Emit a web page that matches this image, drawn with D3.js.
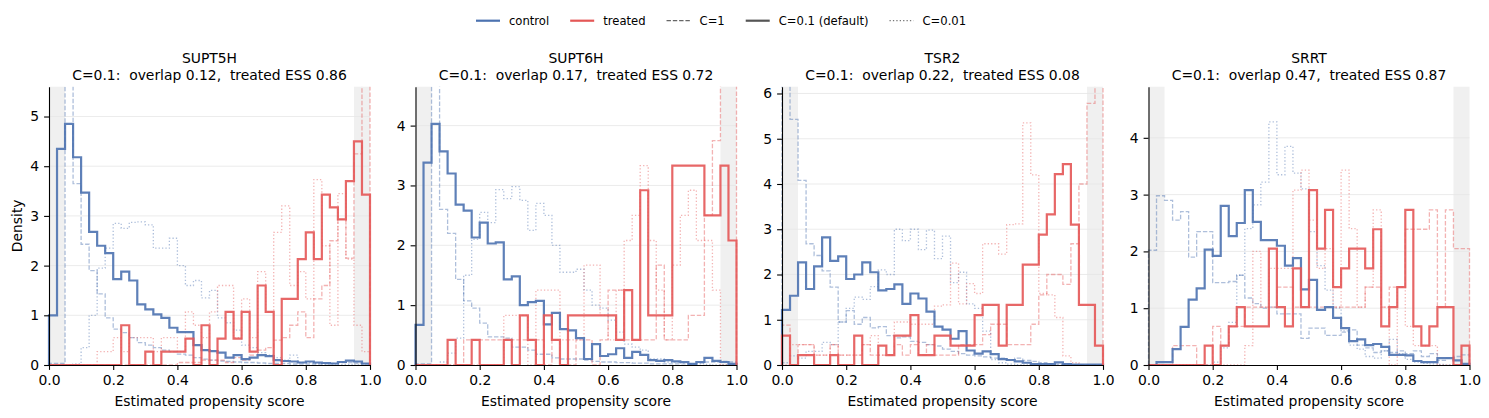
<!DOCTYPE html>
<html>
<head>
<meta charset="utf-8">
<script src="https://cdn.jsdelivr.net/npm/d3@7"></script>
<style>
    body { margin: 0; background: #fff; }
    svg { font-family: "DejaVu Sans", sans-serif; }
</style>
</head>
<body>
<div id="chart"></div>
<script>

// --- data ------------------------------------------------------------------
const genes = ['SUPT5H', 'SUPT6H', 'TSR2', 'SRRT'];
const overlap = ['0.12', '0.17', '0.22', '0.47'];
const treatedESS = ['0.86', '0.72', '0.08', '0.87'];
const yMax = [5.6, 4.65, 6.15, 4.9];
const xTicks = [0, 0.2, 0.4, 0.6, 0.8, 1.0];
const trimRegions = [[0, 0.05], [0.95, 1.0]];
const nBins = 40;   // bins of width 0.025 on [0, 1]

// density per bin, one row per gene
const ctrlC01 = [
    [1.0,4.35,4.85,4.18,3.47,2.68,2.40,2.25,1.73,1.88,1.70,1.22,1.12,1.02,0.95,0.75,0.66,0.66,0.40,0.30,0.28,0.25,0.15,0.20,0.12,0.15,0.20,0.18,0.10,0.08,0.07,0.05,0.07,0.05,0.04,0.03,0.06,0.09,0.07,0.03],
    [0.67,3.38,4.03,3.57,3.2,2.68,2.58,2.13,2.38,2.03,2.05,1.43,1.48,1.0,1.05,1.07,0.68,0.87,0.60,0.58,0.45,0.10,0.35,0.15,0.18,0.28,0.12,0.22,0.17,0.08,0.07,0.08,0.06,0.05,0.02,0.05,0.12,0.07,0.05,0.02],
    [1.22,1.53,2.27,1.68,2.18,2.82,2.3,2.4,1.9,2.0,2.27,2.05,1.65,1.68,1.78,1.35,1.58,1.47,1.18,0.85,0.78,0.58,0.75,0.32,0.25,0.30,0.24,0.13,0.11,0.08,0.05,0.02,0.02,0.02,0.06,0.02,0.01,0.01,0.01,0.01],
    [0,0.05,0.05,0.28,0.67,1.15,1.35,2.03,1.92,2.8,2.27,2.5,3.08,2.52,2.2,2.2,2.1,1.75,1.88,1.33,1.5,0.97,1.02,0.83,0.65,0.42,0.45,0.35,0.37,0.32,0.18,0.18,0.17,0.07,0.05,0.05,0.12,0.12,0.08,0.02]
];
const trtC01 = [
    [0,0,0,0,0,0,0,0,0,0.8,0,0,0.27,0,0.27,0.27,0.27,0.53,0,0.8,0,0.53,1.07,0.53,1.07,0.27,1.6,1.07,0,1.33,1.33,2.13,2.67,2.13,3.43,3.17,2.93,3.7,4.5,3.43],
    [0,0,0,0,0.42,0,0,0.42,0,0,0,0.42,0,0.83,0.42,0,0.83,0.42,0,0.83,0.83,0.83,0.83,0.83,0.83,0.42,1.25,0.42,2.92,0.83,0.83,0.83,3.33,3.33,3.33,3.33,2.5,2.5,3.33,2.08],
    [0.65,0,0.22,0.22,0,0,0.22,0,0,0.65,0,0,0.43,0.22,0.65,0.65,1.1,0.22,0.22,0.65,0.65,0.43,0.43,0.43,1.1,1.33,1.33,0.43,1.33,1.33,2.22,2.22,2.88,3.33,4.22,4.44,3.1,1.33,1.33,0.43],
    [0,0,0,0,0,0,0,0.34,0,0.34,0.68,1.02,0.68,0.68,0.68,2.05,1.02,0.68,1.7,1.02,3.08,2.05,2.73,1.37,1.7,2.05,2.05,1.7,2.39,0.68,1.02,1.37,2.73,0.68,0.34,0.68,1.02,1.02,0,0.34]
];
const ctrlC1 = [
    [0.03,0.03,7,3.65,2.43,1.9,1.43,0.95,0.72,0.65,0.55,0.45,0.40,0.35,0.30,0.27,0.22,0.2,0.15,0.12,0.1,0.08,0.07,0.06,0.05,0.05,0.04,0.03,0.03,0.03,0.02,0.02,0.02,0.02,0.02,0.03,0.05,0.05,0.04,0.02],
    [0.02,0.02,7,2.6,2.2,1.43,1.07,0.95,0.7,0.47,0.47,0.45,0.3,0.3,0.25,0.18,0.18,0.12,0.1,0.1,0.1,0.08,0.06,0.05,0.05,0.04,0.04,0.03,0.03,0.02,0.02,0.02,0.02,0.02,0.02,0.03,0.05,0.05,0.06,0.05],
    [8,5.43,4.08,2.68,2.42,2.08,1.72,0.95,1.2,0.9,1.05,0.82,0.85,0.65,0.6,0.62,0.52,0.5,0.45,0.42,0.35,0.3,0.25,0.22,0.2,0.18,0.15,0.15,0.12,0.15,0.1,0.08,0.05,0.03,0.02,0.02,0.01,0.01,0.01,0.01],
    [2.02,2.98,2.9,2.55,2.7,1.9,2.35,2.35,1.45,1.45,1.47,1.58,1.18,1.08,1.0,1.02,0.9,0.9,0.9,0.47,0.65,0.65,0.52,0.52,0.58,0.62,0.35,0.3,0.22,0.25,0.22,0.25,0.2,0.25,0.15,0.2,0.08,0.12,0.15,0.18]
];
const trtC1 = [
    [0,0,0,0,0,0,0,0,0,0,0,0,0,0,0,0,0.05,0.05,0.05,0.1,0.1,0.1,0.05,0.15,0.1,0.2,0.3,0.35,0.5,0.55,0.8,1.07,0.55,1.33,1.6,2.5,2.93,2.15,4.25,8],
    [0,0,0,0,0,0,0.42,0.42,0.42,0.42,0.42,0.42,0.42,0.42,0.42,0.42,0,0.42,0,0,0.42,0.42,0,0.42,1.25,1.25,0.42,0.42,0.42,0.42,1.67,0.42,0.42,0.42,0.83,0.83,2.5,3.75,7,7],
    [0.88,0,0.45,0.45,0.22,0.22,0.45,0.22,0.22,0.22,0.45,0.22,0.22,0.22,0.45,0.22,0.45,0.22,0.45,0.22,0.22,0.22,0.45,0.45,0.45,0.67,0.9,0.9,0.45,0.45,0.45,0.9,1.55,2.0,2.0,1.78,2.68,4.0,5.78,8],
    [0,0,0,0.34,0.34,0.34,0,0,0.68,0.34,0.68,0.68,1.02,1.02,1.02,1.02,1.37,1.37,1.02,1.02,1.02,1.02,1.02,1.02,1.02,1.02,1.02,1.37,1.37,1.02,1.37,1.37,2.39,2.39,2.39,2.73,1.02,2.73,2.05,2.05]
];
const ctrlC001 = [
    [0,0,0,0.02,0.35,1.0,1.95,2.35,2.85,2.75,2.87,2.88,2.82,2.35,2.35,2.55,2.0,1.6,1.7,1.35,1.5,0.95,0.85,0.7,0.4,0.35,0.25,0.2,0.15,0.1,0.2,0.05,0.05,0.03,0.02,0.02,0.01,0.01,0,0],
    [0,0,0,0.05,0.2,0.45,1.5,2.1,2.55,2.38,2.93,2.78,2.98,2.75,2.25,2.7,2.5,2.0,1.55,1.55,1.6,1.25,1.0,0.95,0.75,0.55,0.35,0.3,0.25,0.1,0.1,0.05,0.05,0.03,0.02,0.02,0.01,0,0,0],
    [0.05,0.2,0.15,0.3,0.3,0.5,0.45,0.95,1.25,1.5,1.45,1.73,2.1,2.0,3.0,2.75,3.0,2.55,2.98,2.35,2.85,1.82,2.05,1.35,1.25,0.75,0.12,0.05,0.02,0.01,0,0,0,0,0,0,0,0,0,0],
    [0,0,0,0,0,0,0,0,0.05,0.3,0.75,1.58,2.4,2.82,3.22,4.28,3.35,3.85,3.38,3.1,2.35,1.75,1.32,1.0,0.6,0.35,0.28,0.15,0.12,0.25,0.45,0.2,0.1,0.05,0.03,0.02,0.01,0,0,0]
];
const trtC001 = [
    [0,0,0,0,0,0,0.27,0.27,0.55,0.27,0.55,0.55,0.55,0.27,0.55,0.55,0.27,1.07,0.8,0.55,1.07,1.6,1.6,0.55,1.33,0.55,1.88,1.07,2.67,3.2,1.6,1.88,1.33,3.73,2.4,0.8,3.45,2.13,0.8,0.27],
    [0,0,0,0,0,0,0,0,0,0,0,0.83,0.83,0.83,0,1.25,1.25,1.25,0.42,0.42,0.42,1.67,1.67,0.83,0.42,1.25,2.08,2.5,3.33,2.08,1.25,0.42,1.67,2.5,2.92,2.08,2.08,1.25,0,0],
    [0,0.45,0.45,0.45,0.22,0.22,0.45,0.22,0.22,0.22,0.45,0.65,0.22,0.22,0.95,0.95,0.9,0.9,0.9,1.3,1.33,2.25,1.35,1.8,1.58,2.68,2.68,2.45,3.1,3.12,5.35,4.2,1.58,1.55,1.05,0.2,0.05,0,0,0],
    [0,0,0,0,0,0,0,0,0,0,0,0,0.34,2.0,1.02,1.7,1.7,1.7,3.08,3.43,2.55,1.7,2.05,1.02,3.43,2.4,1.02,1.37,2.73,1.02,0,1.37,0.68,0.34,0.34,0.34,0,0,0,0]
];

// --- styles ----------------------------------------------------------------
const blue = '#4c72b0';
const red = '#e45756';
const dashFaint = '4.4,1.9';
const dotFaint = '1.3,2.1';

// faint first, bold on top
const layers = [
    {vals: ctrlC1,   color: blue, dash: dashFaint, width: 1.3, opacity: 0.45},
    {vals: trtC1,    color: red,  dash: dashFaint, width: 1.3, opacity: 0.45},
    {vals: ctrlC001, color: blue, dash: dotFaint,  width: 1.3, opacity: 0.45},
    {vals: trtC001,  color: red,  dash: dotFaint,  width: 1.3, opacity: 0.45},
    {vals: ctrlC01,  color: blue, dash: null,      width: 2.2, opacity: 0.9},
    {vals: trtC01,   color: red,  dash: null,      width: 2.2, opacity: 0.9}
];

const width = 1489;
const height = 418;
const axW = 321;
const axTop = 86.7;
const axBottom = 365;
const axLefts = [49, 415.5, 782, 1148.5];
const fontSize = '13.9px';

const mySVG = d3.select('#chart')
    .append('svg')
        .attr('width', width)
        .attr('height', height);

const binScale = d3.scaleLinear().domain([0, nBins]).range([0, 1]);

// outline of a step histogram: (x0,0) up, across every bin, down at the end
function stepPoints(vals) {
    let pts = [[binScale(0), 0]];
    vals.forEach((v, k) => {
        pts.push([binScale(k), v]);
        pts.push([binScale(k + 1), v]);
    });
    pts.push([binScale(nBins), 0]);
    return pts;
}

genes.forEach((gene, i) => {
    let x = d3.scaleLinear().domain([0, 1]).range([axLefts[i], axLefts[i] + axW]);
    let y = d3.scaleLinear().domain([0, yMax[i]]).range([axBottom, axTop]);

    let g = mySVG.append('g');

    g.append('clipPath')
        .attr('id', 'clip' + i)
        .append('rect')
            .attr('x', x(0) - 2)
            .attr('y', axTop)
            .attr('width', axW + 4)
            .attr('height', axBottom - axTop + 2);

    // trimmed propensity regions
    g.selectAll('rect.trim')
        .data(trimRegions)
        .join('rect')
            .classed('trim', true)
            .attr('x', d => x(d[0]))
            .attr('width', d => x(d[1]) - x(d[0]))
            .attr('y', axTop)
            .attr('height', axBottom - axTop)
            .attr('fill', '#f0f0f0');

    // horizontal grid
    let yTicks = d3.range(0, Math.floor(yMax[i]) + 1);
    g.selectAll('line.grid')
        .data(yTicks.slice(1))
        .join('line')
            .classed('grid', true)
            .attr('x1', x(0))
            .attr('x2', x(1))
            .attr('y1', d => y(d))
            .attr('y2', d => y(d))
            .attr('stroke', '#e6e6e6')
            .attr('stroke-width', 0.8);

    let line = d3.line()
        .x(d => x(d[0]))
        .y(d => y(d[1]));

    let hg = g.append('g').attr('clip-path', `url(#clip${i})`);
    layers.forEach(l => {
        hg.append('path')
            .attr('d', line(stepPoints(l.vals[i])))
            .attr('fill', 'none')
            .attr('stroke', l.color)
            .attr('stroke-width', l.width)
            .attr('stroke-opacity', l.opacity)
            .attr('stroke-dasharray', l.dash)
            .attr('stroke-linejoin', 'miter');
    });

    // axes
    let xAxis = g.append('g')
        .attr('transform', `translate(0,${axBottom})`)
        .call(d3.axisBottom(x)
            .tickValues(xTicks)
            .tickFormat(d3.format('.1f'))
            .tickSize(4.9)
            .tickSizeOuter(0)
            .tickPadding(4.9));

    let yAxis = g.append('g')
        .attr('transform', `translate(${x(0)},0)`)
        .call(d3.axisLeft(y)
            .tickValues(yTicks)
            .tickFormat(d3.format('d'))
            .tickSize(4.9)
            .tickSizeOuter(0)
            .tickPadding(4.9));

    [xAxis, yAxis].forEach(a => {
        a.selectAll('text')
            .style('font-size', fontSize)
            .style('font-family', '"DejaVu Sans", sans-serif')
            .attr('fill', '#000');
        a.selectAll('line').attr('stroke', '#000').attr('stroke-width', 1.1);
        a.select('.domain').attr('stroke', '#000').attr('stroke-width', 1.1);
    });

    g.append('text')
        .attr('x', x(0.5))
        .attr('y', 405.5)
        .attr('text-anchor', 'middle')
        .style('font-size', fontSize)
        .text('Estimated propensity score');

    let title = g.append('text')
        .attr('text-anchor', 'middle')
        .style('font-size', fontSize)
        .style('white-space', 'pre')
        .attr('xml:space', 'preserve');
    title.append('tspan')
        .attr('x', x(0.5))
        .attr('y', 63)
        .text(gene);
    title.append('tspan')
        .attr('x', x(0.5))
        .attr('y', 80)
        .text(`C=0.1:  overlap ${overlap[i]},  treated ESS ${treatedESS[i]}`);

    if (i === 0) {
        g.append('text')
            .attr('transform', `translate(22,${(axTop + axBottom) / 2}) rotate(-90)`)
            .attr('text-anchor', 'middle')
            .style('font-size', fontSize)
            .text('Density');
    }
});

// --- legend ----------------------------------------------------------------
const legendItems = [
    {label: 'control', color: blue, dash: null, width: 2.2},
    {label: 'treated', color: red, dash: null, width: 2.2},
    {label: 'C=1', color: '#666', dash: '4.4,1.9', width: 1.3},
    {label: 'C=0.1 (default)', color: '#555', dash: null, width: 2.2},
    {label: 'C=0.01', color: '#777', dash: '1.3,2.1', width: 1.3}
];

let legend = mySVG.append('g').attr('transform', 'translate(0,20.7)');
let cursor = 476;
legendItems.forEach(it => {
    legend.append('line')
        .attr('x1', cursor)
        .attr('x2', cursor + 24)
        .attr('stroke', it.color)
        .attr('stroke-width', it.width)
        .attr('stroke-dasharray', it.dash);
    let t = legend.append('text')
        .attr('x', cursor + 33)
        .attr('dy', '0.35em')
        .style('font-size', '11.6px')
        .text(it.label);
    cursor += 33 + t.node().getComputedTextLength() + 21;
});

</script>
</body>
</html>
